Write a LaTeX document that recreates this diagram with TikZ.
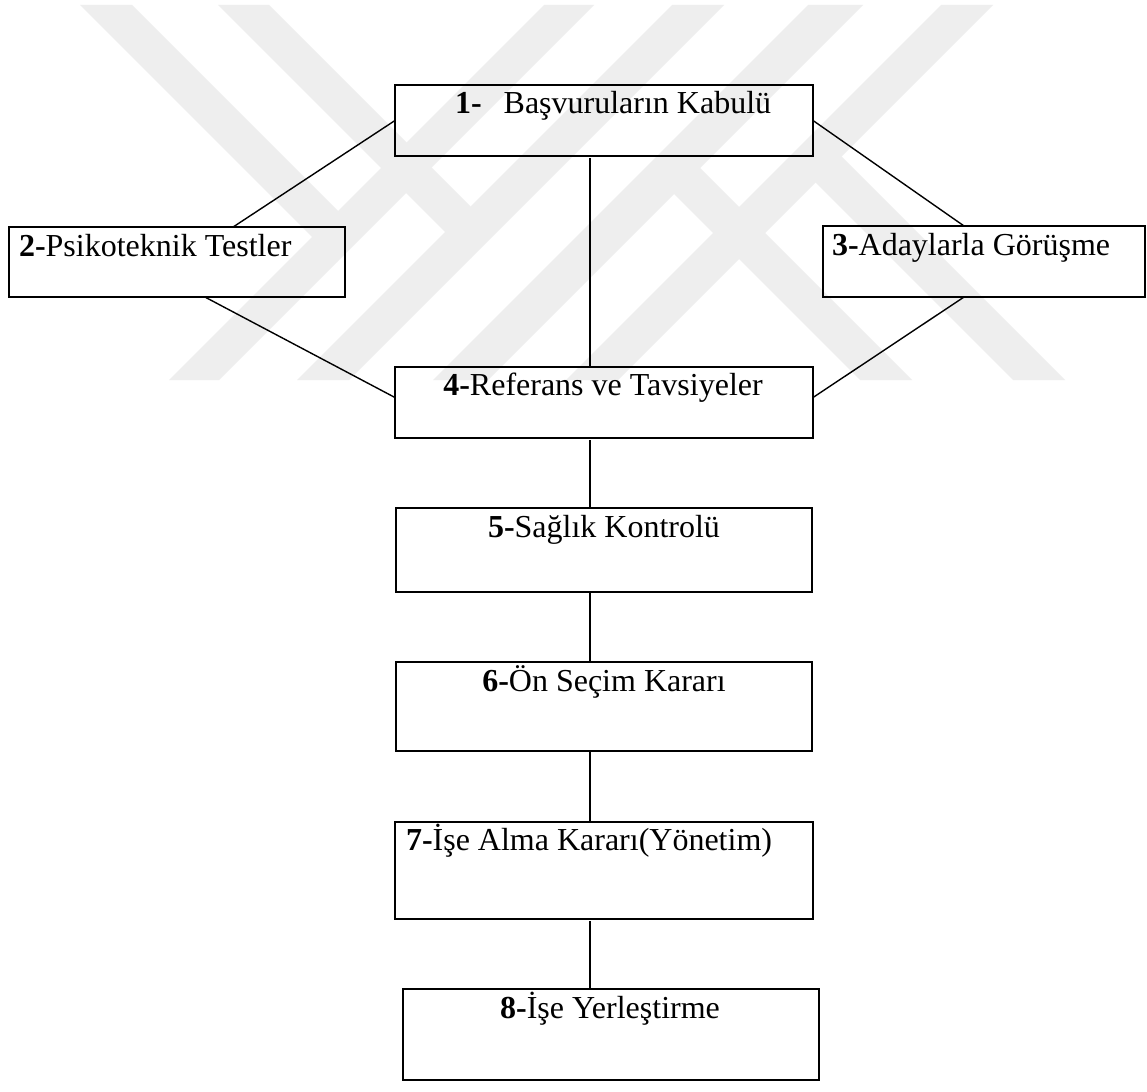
\documentclass[tikz,border=0pt]{standalone}
\usepackage{fontspec}
\setmainfont{Liberation Serif}
\usetikzlibrary{calc}
\definecolor{wm}{RGB}{238,238,238}
\tikzset{
  box/.style n args={2}{draw=black, line width=2.2pt, inner sep=0pt, outer sep=0pt,
    anchor=north west, minimum width=#1pt, minimum height=#2pt},
  lbl/.style={inner sep=0pt, outer sep=0pt},
  link/.style={line width=1.4pt}
}
\begin{document}
\begin{tikzpicture}[x=1pt, y=-1pt, font=\fontsize{32}{38}\selectfont]
\useasboundingbox (0,0) rectangle (1147,1091);
\fill[white] (0,0) rectangle (1147,1091);

% faint background emblem: parallel stripes
\fill[wm] (80,5) -- (132,5) -- (338,211) -- (337,262) -- cycle;
\fill[wm] (218,5) -- (269,5) -- (470.5,206.5) -- (471,258) -- cycle;
\fill[wm] (544,5) -- (594,5) -- (219,380) -- (169,380) -- cycle;
\fill[wm] (672,5) -- (724,5) -- (349,380) -- (297,380) -- cycle;
\fill[wm] (808,5) -- (863,5) -- (488,380) -- (433,380) -- cycle;
\fill[wm] (941,5) -- (993,5) -- (618,380) -- (566,380) -- cycle;
\fill[wm] (672.5,140.5) -- (912,380) -- (860,380) -- (674,194) -- cycle;
\fill[wm] (815.5,130.5) -- (1065,380) -- (1013,380) -- (815.5,182.5) -- cycle;

% boxes
\node[box={418}{71}] (b1) at (395,85) {};
\node[box={336}{70}] (b2) at (9,227) {};
\node[box={322}{71}] (b3) at (823,226) {};
\node[box={418}{71}] (b4) at (395,367) {};
\node[box={416}{84}] (b5) at (396,508) {};
\node[box={416}{89}] (b6) at (396,662) {};
\node[box={418}{97}] (b7) at (395,822) {};
\node[box={416}{91}] (b8) at (403,989) {};

% labels
\node[lbl, anchor=base west] (t1) at ($(b1.north west)+(60,29)$) {\textbf{1-}\hspace{22pt}Başvuruların Kabulü};
\node[lbl, anchor=base west] (t2) at ($(b2.north west)+(10,29)$) {\textbf{2-}Psikoteknik Testler};
\node[lbl, anchor=base west] (t3) at ($(b3.north west)+(9,29)$) {\textbf{3-}Adaylarla Görüşme};
\node[lbl, anchor=base] (t4) at ($(b4.north)+(-1,28)$) {\textbf{4-}Referans ve Tavsiyeler};
\node[lbl, anchor=base] (t5) at ($(b5.north)+(0,29)$) {\textbf{5-}Sağlık Kontrolü};
\node[lbl, anchor=base] (t6) at ($(b6.north)+(0,29)$) {\textbf{6-}Ön Seçim Kararı};
\node[lbl, anchor=base west] (t7) at ($(b7.north west)+(11,28)$) {\textbf{7-}İşe Alma Kararı(Yönetim)};
\node[lbl, anchor=base] (t8) at ($(b8.north)+(-1,29)$) {\textbf{8-}İşe Yerleştirme};

% connectors
\coordinate (spine) at (590,0);
\draw[link] (b1.west) -- ($(b2.north west)!0.667!(b2.north east)$);
\draw[link] (b1.east) -- ($(b3.north west)!0.438!(b3.north east)$);
\draw[link] ($(b2.south west)!0.583!(b2.south east)$) -- ($(b4.north west)!0.43!(b4.south west)$);
\draw[link] ($(b3.south west)!0.438!(b3.south east)$) -- ($(b4.north east)!0.43!(b4.south east)$);
\draw[link] ($(b1.south -| spine)+(0,2)$) -- (b4.north -| spine);
\draw[link] ($(b4.south -| spine)+(0,2)$) -- (b5.north -| spine);
\draw[link] (b5.south -| spine) -- (b6.north -| spine);
\draw[link] (b6.south -| spine) -- (b7.north -| spine);
\draw[link] ($(b7.south -| spine)+(0,2)$) -- (b8.north -| spine);
\end{tikzpicture}
\end{document}
